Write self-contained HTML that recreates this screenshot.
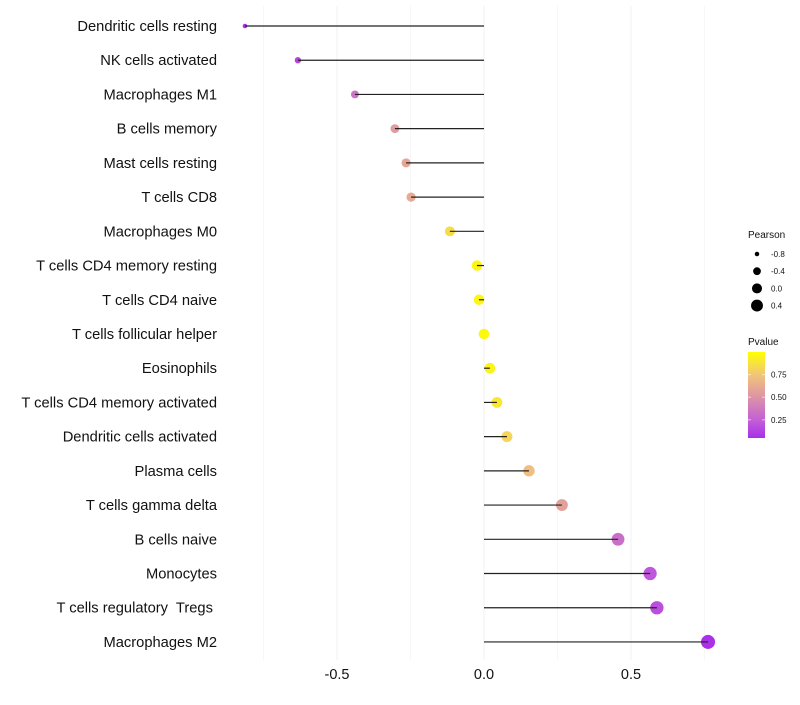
<!DOCTYPE html>
<html><head><meta charset="utf-8"><style>
body{margin:0;background:#fff;font-family:"Liberation Sans",sans-serif}
#ylabels text{white-space:pre}
</style></head><body>
<svg id="chart" width="800" height="700" xmlns="http://www.w3.org/2000/svg" font-family="Liberation Sans, sans-serif">
<g id="grid"></g><g id="marks"></g><g id="ylabels"></g><g id="xlabels"></g><g id="legend"></g>
</svg>
<script>
const categories=["Dendritic cells resting","NK cells activated","Macrophages M1","B cells memory","Mast cells resting","T cells CD8","Macrophages M0","T cells CD4 memory resting","T cells CD4 naive","T cells follicular helper","Eosinophils","T cells CD4 memory activated","Dendritic cells activated","Plasma cells","T cells gamma delta","B cells naive","Monocytes","T cells regulatory  Tregs ","Macrophages M2"];
const pearson=[-0.813,-0.633,-0.439,-0.303,-0.265,-0.248,-0.116,-0.024,-0.017,0.0,0.02,0.044,0.078,0.153,0.265,0.456,0.565,0.588,0.762];
const pvalue=[0.06,0.15,0.35,0.55,0.6,0.62,0.85,0.96,0.96,0.97,0.95,0.9,0.82,0.72,0.57,0.33,0.22,0.19,0.07];
const xTicks=[-0.5,0,0.5];
const xTickLabels=["-0.5","0.0","0.5"];
const minorTicks=[-0.75,-0.25,0.25,0.75];
const sizeLegend=[-0.8,-0.4,0.0,0.4];
const colorTicks=[0.25,0.5,0.75];

const NS="http://www.w3.org/2000/svg";
const X=v=>484+v*294;
const Y=i=>26+i*34.22;
const R=v=>Math.sqrt(Math.max(3,28+28*v));
const stops=[[0,[160,32,240]],[0.25,[194,94,216]],[0.5,[220,146,168]],[0.75,[242,196,122]],[1,[255,255,0]]];
function col(p){p=Math.max(0,Math.min(1,p));for(let k=0;k<stops.length-1;k++){const a=stops[k],b=stops[k+1];if(p<=b[0]){const t=(p-a[0])/(b[0]-a[0]);const c=a[1].map((x,j)=>Math.round(x+(b[1][j]-x)*t));return `rgb(${c})`;}}return "rgb(255,255,0)";}
function mk(tag,attrs,parent){const e=document.createElementNS(NS,tag);for(const k in attrs)e.setAttribute(k,attrs[k]);document.getElementById(parent).appendChild(e);return e;}

minorTicks.forEach(v=>{const l=mk("line",{x1:X(v),x2:X(v),y1:6,y2:660,stroke:"#f5f5f5","stroke-width":0.8},"grid");

});
xTicks.forEach((v,i)=>{const l=mk("line",{x1:X(v),x2:X(v),y1:6,y2:660,stroke:"#efefef","stroke-width":0.9},"grid");


const t=mk("text",{x:X(v),y:679,"font-size":14.5,"text-anchor":"middle",fill:"#111"},"xlabels");t.textContent=xTickLabels[i];

});
categories.forEach((c,i)=>{const y=Y(i);
const t=mk("text",{x:217,y:y+5,"font-size":14.7,"text-anchor":"end",fill:"#111"},"ylabels");t.textContent=c;


const p=mk("circle",{cx:X(pearson[i]),cy:y,r:R(pearson[i]),fill:col(pvalue[i])},"marks");


const l=mk("line",{x1:X(0),x2:X(pearson[i]),y1:y,y2:y,stroke:"#222","stroke-width":1.2},"marks");

});
let t=mk("text",{x:748,y:238,"font-size":10,fill:"#111"},"legend");t.textContent="Pearson";


sizeLegend.forEach((v,i)=>{const y=254+i*17.2;
const c=mk("circle",{cx:757,cy:y,r:R(v)*0.95,fill:"#000"},"legend");


const tt=mk("text",{x:771,y:y+3,"font-size":8,fill:"#111"},"legend");tt.textContent=v.toFixed(1);

});
t=mk("text",{x:748,y:345,"font-size":10,fill:"#111"},"legend");t.textContent="Pvalue";


const defs=mk("defs",{},"legend");const g=document.createElementNS(NS,"linearGradient");g.setAttribute("id","pg");g.setAttribute("x1","0");g.setAttribute("y1","1");g.setAttribute("x2","0");g.setAttribute("y2","0");defs.appendChild(g);
for(let k=0;k<=10;k++){const p=0.06+0.94*k/10;const s=document.createElementNS(NS,"stop");s.setAttribute("offset",k/10);s.setAttribute("stop-color",col(p));g.appendChild(s);}
const bar=mk("rect",{x:748,y:352,width:17,height:86,fill:"url(#pg)"},"legend");


const cy=p=>437-(p-0.06)/0.94*85;
colorTicks.forEach(p=>{const y=cy(p);
mk("line",{x1:748,x2:751,y1:y,y2:y,stroke:"#fff","stroke-opacity":0.6},"legend");
mk("line",{x1:762,x2:765,y1:y,y2:y,stroke:"#fff","stroke-opacity":0.6},"legend");
const tt=mk("text",{x:771,y:y+3,"font-size":8,fill:"#111"},"legend");tt.textContent=p.toFixed(2);

});
</script>
</body></html>
